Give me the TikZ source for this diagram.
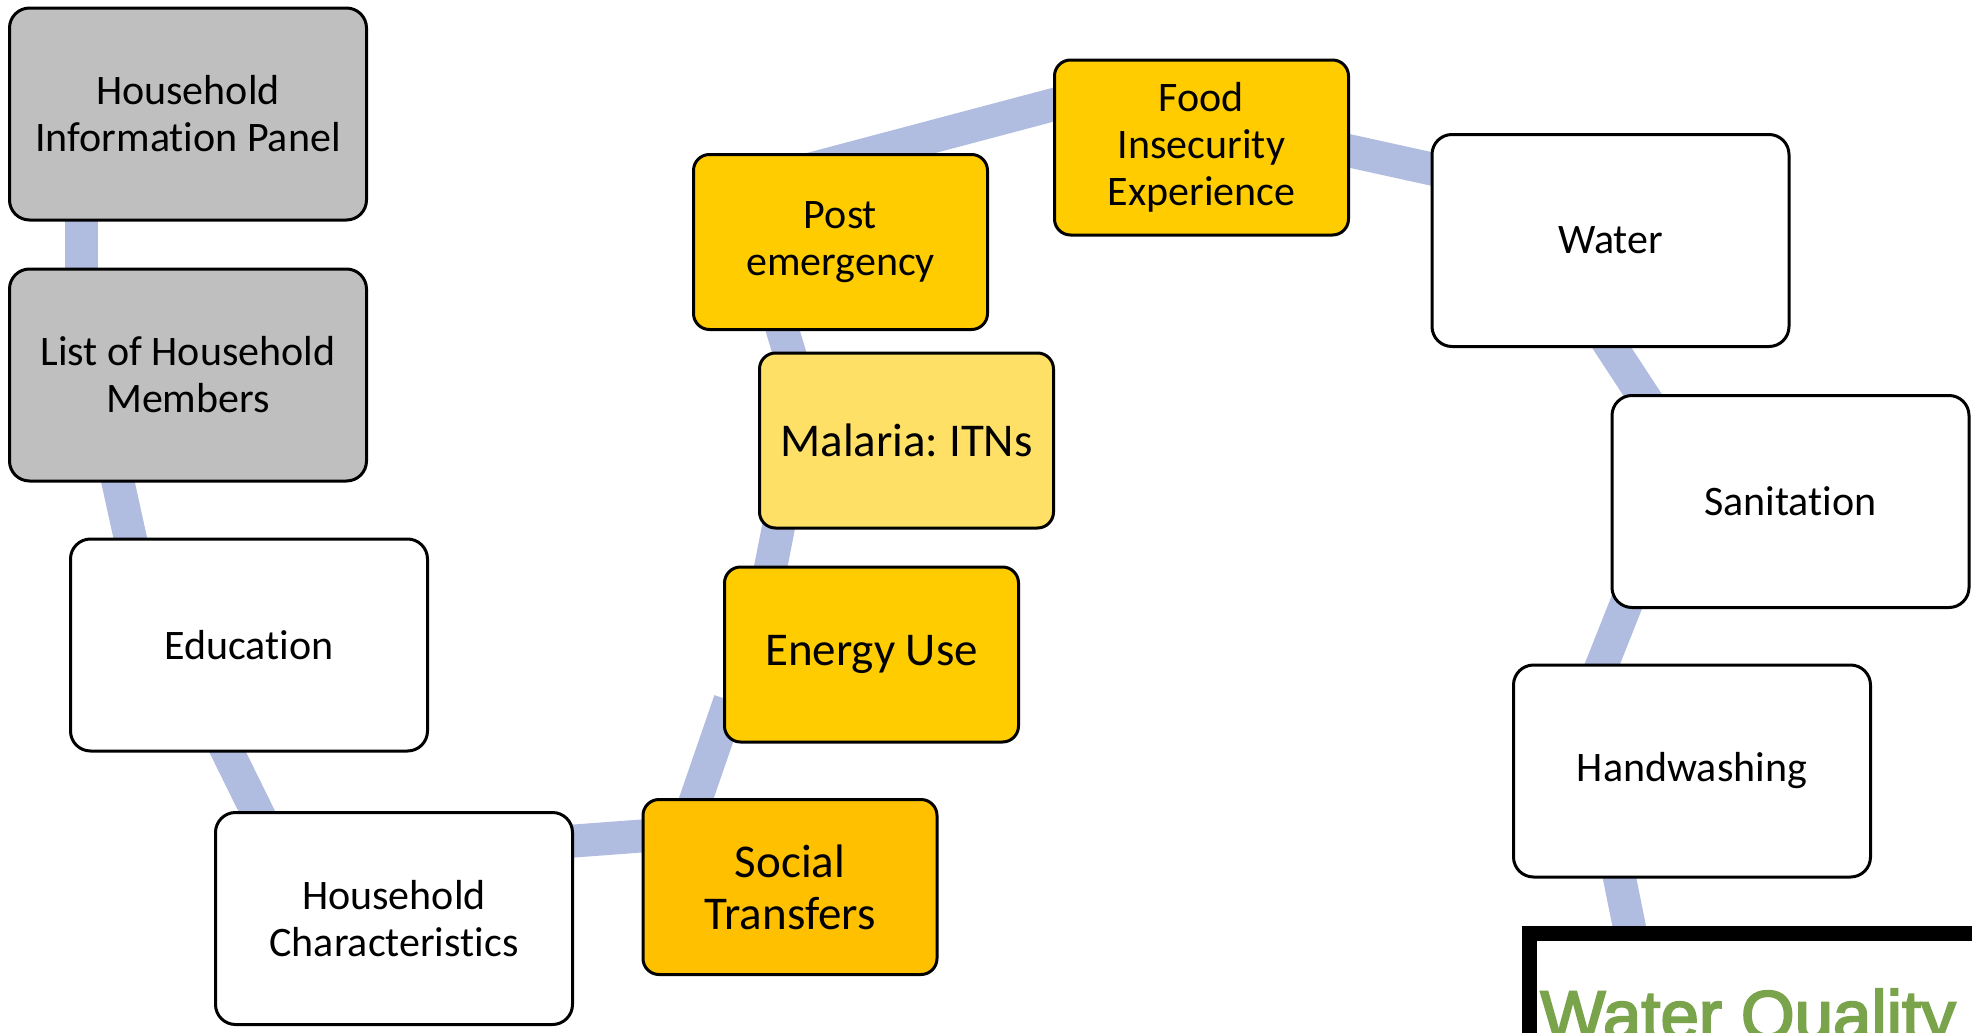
\documentclass[tikz,border=0pt]{standalone}
\usepackage{fontspec}
\setmainfont[Ligatures={NoCommon}]{Carlito}
\newfontfamily\wqfont[FakeBold=3]{Liberation Sans}
\frenchspacing
\usetikzlibrary{calc,backgrounds}
\definecolor{conn}{RGB}{176,188,224}
\definecolor{grayfill}{RGB}{191,191,191}
\definecolor{yel}{RGB}{255,204,0}
\definecolor{yelpale}{RGB}{255,224,102}
\definecolor{orng}{RGB}{255,192,0}
\definecolor{wqgreen}{RGB}{122,164,76}
\begin{document}
\begin{tikzpicture}[x=0.5pt,y=-0.5pt,
 box/.style={draw=black,line width=1.5pt,align=center,inner sep=0pt,font=\fontsize{21}{23.5}\selectfont},
 bigbox/.style={box,minimum width=178.5pt,minimum height=106pt,rounded corners=10pt,fill=white},
 graybox/.style={bigbox,fill=grayfill},
 smallbox/.style={box,minimum width=147pt,minimum height=87.5pt,rounded corners=8pt,fill=yel},
 bigfont/.style={font=\fontsize{23.5}{26}\selectfont},
 link/.style={draw=conn,line width=16.5pt},
 wqframe/.style={draw=black,line width=7.5pt,fill=white,inner sep=0pt,minimum width=228.75pt,minimum height=100pt,anchor=north west},
 wqtext/.style={anchor=base west,inner sep=0pt,text=wqgreen,font=\wqfont\fontsize{34.5}{40}\selectfont}]
\useasboundingbox (0,0) rectangle (1972,1033);

\node[graybox] (hip) at (188,114) {Household\\Information Panel};
\node[graybox] (lhm) at (188,375) {List of Household\\Members};
\node[bigbox] (edu) at (249,645) {Education};
\node[bigbox] (hc) at (394,918.5) {Household\\Characteristics};
\node[smallbox,fill=orng,bigfont] (st) at (790,887) {Social\\Transfers};
\node[smallbox,bigfont] (eu) at (871.5,654.5) {Energy Use};
\node[smallbox,fill=yelpale,bigfont] (mal) at (906.5,440.5) {Malaria: ITNs};
\node[smallbox] (post) at (840.5,242) {Post\\emergency};
\node[smallbox] (food) at (1201.5,147.5) {Food\\Insecurity\\Experience};
\node[bigbox] (water) at (1610.5,240.5) {Water};
\node[bigbox] (san) at (1790.5,501.5) {Sanitation};
\node[bigbox] (hand) at (1692,771) {Handwashing};
\node[wqframe] (wq) at (1521.5,925.5) {};
\node[wqtext] (wqt) at (1540,1039) {Water Quality};

\begin{scope}[on background layer]
\draw[link] ($(hip.south west)+(73,-22)$) -- ($(lhm.north west)+(73,23)$);
\draw[link] ($(lhm.south west)+(105,-23)$) -- ($(edu.north west)+(66,22)$);
\draw[link] ($(edu.south west)+(149,-20)$) -- ($(hc.north west)+(53,21)$);
\draw[link] ($(hc.east)+(-20,-76)$) -- ($(st.west)+(20,-52.5)$);
\draw[link] ($(st.north west)+(48,20)$) -- ($(eu.south west)+(7,-43)$);
\draw[link] ($(eu.north west)+(44,20)$) -- ($(mal.south west)+(24,-20)$);
\draw[link] ($(mal.north west)+(37,20)$) -- ($(post.south west)+(85,-19)$);
\draw[link] ($(post.north west)+(98,21.5)$) -- ($(food.west)+(19,-47.8)$);
\draw[link] ($(food.east)+(-20,-0.9)$) -- ($(water.west)+(19,-67.6)$);
\draw[link] ($(water.south west)+(169,-19)$) -- ($(san.north west)+(44,19)$);
\draw[link] ($(san.south west)+(22,-21)$) -- ($(hand.north west)+(83,19)$);
\draw[link] ($(hand.south west)+(104,-18)$) -- ($(wq.north west)+(110.5,14.5)$);
\end{scope}
\end{tikzpicture}
\end{document}
